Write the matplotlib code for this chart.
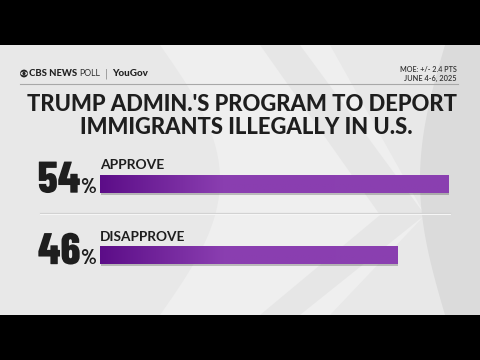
import matplotlib
matplotlib.use("Agg")
import matplotlib.pyplot as plt
import numpy as np
from matplotlib.patches import Rectangle, Circle, Ellipse, Polygon
from matplotlib.colors import LinearSegmentedColormap
from matplotlib.transforms import blended_transform_factory
import matplotlib.patheffects as pe

# ---- data ----
categories = ["APPROVE", "DISAPPROVE"]
values = [54, 46]
value_labels = ["54", "46"]
title_lines = ["TRUMP ADMIN.'S PROGRAM TO DEPORT", "IMMIGRANTS ILLEGALLY IN U.S."]
source_parts = ["CBS NEWS", "POLL", "|", "YouGov"]
moe_lines = ["MOE: +/- 2.4 PTS", "JUNE 4-6, 2025"]

W, H = 480, 360
fig = plt.figure(figsize=(W / 100, H / 100), dpi=100)
fig.patch.set_facecolor("black")
FONT = ["Lato", "DejaVu Sans"]

bg = fig.add_axes([0, 0, 1, 1])
bg.set_xlim(0, W)
bg.set_ylim(H, 0)
bg.axis("off")
bg.add_patch(Rectangle((0, 45), W, 270, facecolor="#e8e8e8", edgecolor="none", zorder=0))
t = np.linspace(0, 1, 60)
lcx = 160 + 60 * np.sin(np.pi * t)
lcy = 45 + 270 * t
bg.add_patch(Polygon(np.column_stack([np.concatenate([lcx, [330, 425, 330]]),
                                      np.concatenate([lcy, [315, 215, 45]])]),
                     closed=True, facecolor="#efefef", edgecolor="none", zorder=0.5))
bg.add_patch(Polygon(np.array([[300, 45], [425, 215], [300, 315], [260, 315], [380, 215], [260, 45]]),
                     closed=True, facecolor="#dedede", edgecolor="none", alpha=0.5, zorder=0.6))
rx = 445 - 25 * np.sin(np.pi * t)
ry = 45 + 270 * t
bg.add_patch(Polygon(np.column_stack([np.concatenate([rx, [480, 480]]), np.concatenate([ry, [315, 45]])]),
                     closed=True, facecolor="#dbdbdb", edgecolor="none", zorder=0.6))
bg.add_patch(Rectangle((0, 0), W, 45, facecolor="black", edgecolor="none", zorder=1))
bg.add_patch(Rectangle((0, 315), W, 45, facecolor="black", edgecolor="none", zorder=1))

fig.canvas.draw()
renderer = fig.canvas.get_renderer()


def fit(txt, target_w, base=10):
    w = txt.get_window_extent(renderer).width
    txt.set_fontsize(base * target_w / w)
    return txt


# header: CBS eye logo
bg.add_patch(Circle((24, 73.5), 3.9, facecolor="#222222", edgecolor="none", zorder=2))
bg.add_patch(Ellipse((24, 73.5), 6.6, 3.6, facecolor="#e9e9e9", edgecolor="none", zorder=2.1))
bg.add_patch(Circle((24, 73.5), 1.6, facecolor="#222222", edgecolor="none", zorder=2.2))
fit(bg.text(29, 73.5, source_parts[0], fontsize=10, fontweight="black", family=FONT,
            color="#222222", va="center", ha="left", zorder=3), 48)
fit(bg.text(79.5, 73.5, source_parts[1], fontsize=10, fontweight="normal", family=FONT,
            color="#333333", va="center", ha="left", zorder=3), 21)
bg.text(106.5, 73.5, source_parts[2], fontsize=7, fontweight="normal", family=["DejaVu Sans"],
        color="#8a8a8a", va="center", ha="center", zorder=3)
fit(bg.text(112, 73.5, source_parts[3], fontsize=10, fontweight="black", family=FONT,
            color="#222222", va="center", ha="left", zorder=3), 36)
fit(bg.text(457, 69, moe_lines[0], fontsize=10, fontweight="semibold", family=FONT,
            color="#333333", va="center", ha="right", zorder=3), 57)
fit(bg.text(457, 78, moe_lines[1], fontsize=10, fontweight="semibold", family=FONT,
            color="#333333", va="center", ha="right", zorder=3), 52)
bg.plot([20, 458], [84, 84], color="#a8a8a8", lw=0.8, zorder=3)

# title
title_specs = [(242, 104.5, 430), (246.5, 127, 332)]
for line, (cx, cy, target_w) in zip(title_lines, title_specs):
    fit(bg.text(cx, cy, line, fontsize=20, fontweight="black", family=FONT,
                color="#1e1e1e", ha="center", va="center", zorder=3), target_w, 20)

# separator between bars
bg.plot([40, 450], [213, 213], color="#d2d2d2", lw=0.9, zorder=2)
bg.plot([40, 450], [214, 214], color="#f7f7f7", lw=0.7, zorder=2)

# bar axes: x from px 100 to 449 for 0..54, y from px 148 to 291
ax = fig.add_axes([100 / W, 1 - 291 / H, 349 / W, 143 / H])
ax.patch.set_alpha(0)
ax.axis("off")
bar_h = 0.25
bars = ax.barh(range(len(categories)), values, height=bar_h, color="#8a3eb0", zorder=2,
               path_effects=[pe.SimplePatchShadow(offset=(0.8, -1.5), shadow_rgbFace="#000000", alpha=0.22),
                             pe.Normal()])
cmap = LinearSegmentedColormap.from_list("p", [(0, "#5c0d88"), (0.35, "#8a3eb0"), (1, "#8a40b0")])
grad = np.linspace(0, 1, 256).reshape(1, -1)
for i, b in enumerate(bars):
    im = ax.imshow(grad, cmap=cmap, aspect="auto",
                   extent=(0, max(values), i + bar_h / 2, i - bar_h / 2), zorder=3)
    im.set_clip_path(b)
ax.set_xlim(0, 54)
ax.set_ylim(len(categories) - 0.5, -0.5)

trans = blended_transform_factory(bg.transData, ax.transData)
label_w = {"APPROVE": 64, "DISAPPROVE": 85}
for i, (cat, lab) in enumerate(zip(categories, value_labels)):
    fit(ax.text(0, i - bar_h / 2 - 0.08, cat, fontsize=10, fontweight="bold", family=FONT,
                color="#1e1e1e", ha="left", va="baseline", zorder=4), label_w.get(cat, 64))
    ax.text(80.5, i + bar_h / 2, lab, transform=trans, fontsize=32, fontweight="heavy",
            family="Barlow Condensed", color="#1e1e1e", ha="right", va="baseline", zorder=4,
            path_effects=[pe.SimpleLineShadow(offset=(1, -1), alpha=0.25), pe.Normal()])
    ax.text(80.5, i + bar_h / 2, "%", transform=trans, fontsize=15, fontweight="bold",
            family="Barlow Condensed", color="#1e1e1e", ha="left", va="baseline", zorder=4)

fig.savefig("out.png", dpi=100, facecolor="black")
